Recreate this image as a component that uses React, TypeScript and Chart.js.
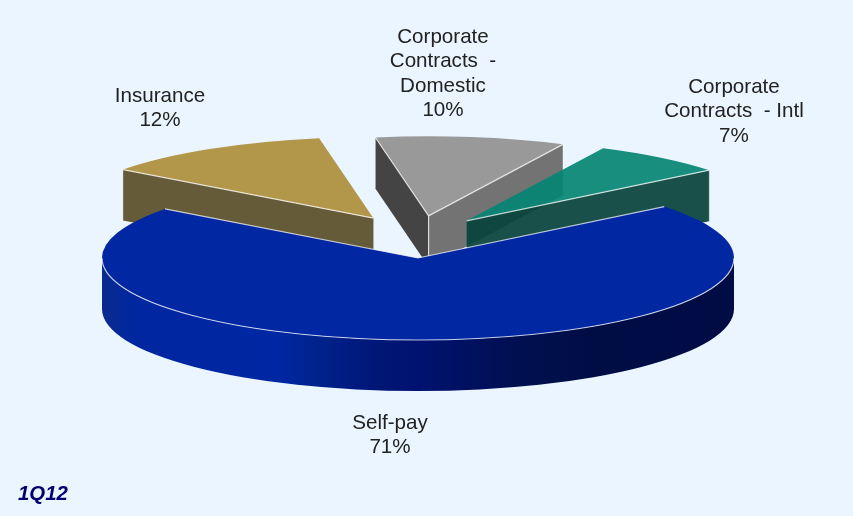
import { useEffect, useRef } from "react";
import { Chart, registerables } from "chart.js";

Chart.register(...registerables);

// Revenue mix for the quarter, in percent.
const categories = ["Self-pay", "Insurance", "Corporate Contracts - Domestic", "Corporate Contracts - Intl"];
const shares = [71, 12, 10, 7];
const labelLines = [["Self-pay"], ["Insurance"], ["Corporate", "Contracts  -", "Domestic"], ["Corporate", "Contracts  - Intl"]];
const periodLabel = "1Q12";

const topColors = ["#0227A3", "#B2964A", "#999999", "rgba(4,132,115,0.92)"];
const startFaceColors = ["#000000", "#665B38", "#444444", "rgba(7,66,59,0.92)"];
const endFaceColors = ["#000000", "#665B38", "#737373", "rgba(7,66,59,0.92)"];
const explodeDistance = [0, 85, 76, 78];
const explodeLift = [0, 0.55, 0.56, 0.61];
const sliceScale = [1, 0.99, 0.97, 0.985];
const labelAnchors = [
  { x: 390, y: 423 },
  { x: 160, y: 96 },
  { x: 443, y: 37 },
  { x: 734, y: 87 },
];

const SQUASH = 0.2595;
const THICKNESS = 51;
const RADIUS = 316;
const PAINT_ORDER = [1, 2, 3, 0];
const EDGE = "rgba(255,255,255,0.72)";
const TEXT_FONT = '20.6px "Liberation Sans", Arial, sans-serif';

const normalize = (a: number) => Math.atan2(Math.sin(a), Math.cos(a));

// Paints one extruded, tilted slice from the arc geometry Chart.js computed.
function paintSlice(ctx: CanvasRenderingContext2D, arc: any, index: number) {
  const { x, y, startAngle, endAngle, outerRadius } = arc;
  const mid = (startAngle + endAngle) / 2;
  const d = explodeDistance[index];
  const scale = sliceScale[index];
  const cx = x + d * Math.cos(mid);
  const cy = y + d * Math.sin(mid) * explodeLift[index];
  const rx = outerRadius * scale;
  const ry = rx * SQUASH;
  const rim = (a: number) => ({ x: cx + rx * Math.cos(a), y: cy + ry * Math.sin(a) });

  const face = (a: number, fill: string) => {
    const p = rim(a);
    ctx.beginPath();
    ctx.moveTo(cx, cy);
    ctx.lineTo(p.x, p.y);
    ctx.lineTo(p.x, p.y + THICKNESS);
    ctx.lineTo(cx, cy + THICKNESS);
    ctx.closePath();
    ctx.fillStyle = fill;
    ctx.fill();
    ctx.strokeStyle = "rgba(255,255,255,0.3)";
    ctx.lineWidth = 1;
    ctx.beginPath();
    ctx.moveTo(p.x, p.y);
    ctx.lineTo(p.x, p.y + THICKNESS);
    ctx.stroke();
  };

  const startVisible = Math.sin(startAngle - Math.PI / 2) > 0;
  const endVisible = Math.sin(endAngle + Math.PI / 2) > 0;
  if (startVisible) face(startAngle, startFaceColors[index]);
  if (endVisible) face(endAngle, endFaceColors[index]);

  // Curved outer wall: only the half of the rim that faces the viewer.
  const from = Math.max(startAngle, 0);
  const to = Math.min(endAngle, Math.PI);
  const hasFront = normalize(mid) > 0 && to > from && d === 0;
  if (hasFront) {
    const g = ctx.createLinearGradient(cx - rx, 0, cx + rx, 0);
    g.addColorStop(0, "#0A2A8E");
    g.addColorStop(0.05, "#0027A0");
    g.addColorStop(0.28, "#0027A3");
    g.addColorStop(0.33, "#00238F");
    g.addColorStop(0.44, "#001675");
    g.addColorStop(0.5, "#001270");
    g.addColorStop(0.66, "#000F50");
    g.addColorStop(0.77, "#000D45");
    g.addColorStop(1, "#010C45");
    ctx.beginPath();
    ctx.ellipse(cx, cy, rx, ry, 0, from, to);
    ctx.ellipse(cx, cy + THICKNESS, rx, ry, 0, to, from, true);
    ctx.closePath();
    ctx.fillStyle = g;
    ctx.fill();
  }

  // The top surface is the library's own arc element under a tilt transform.
  ctx.save();
  ctx.translate(cx, cy);
  ctx.scale(scale, scale * SQUASH);
  ctx.translate(-x, -y);
  arc.draw(ctx);
  ctx.restore();

  ctx.strokeStyle = EDGE;
  ctx.lineWidth = 1.2;
  const radial = (a: number) => {
    const p = rim(a);
    ctx.beginPath();
    ctx.moveTo(cx, cy);
    ctx.lineTo(p.x, p.y);
    ctx.stroke();
  };
  if (startVisible || d === 0) radial(startAngle);
  if (endVisible || d === 0) radial(endAngle);
  if (startVisible && endVisible) {
    ctx.beginPath();
    ctx.moveTo(cx, cy);
    ctx.lineTo(cx, cy + THICKNESS);
    ctx.stroke();
  }
  if (hasFront) {
    ctx.beginPath();
    ctx.ellipse(cx, cy, rx, ry, 0, from, to);
    ctx.stroke();
  }
}

const tiltedPie = {
  id: "tiltedPie",
  beforeDatasetDraw(chart: any, args: any) {
    const ctx = chart.ctx;
    const arcs = args.meta.data;
    PAINT_ORDER.forEach((i) => paintSlice(ctx, arcs[i], i));
    return false;
  },
  afterDraw(chart: any) {
    const ctx = chart.ctx;
    const values = chart.data.datasets[0].data;
    ctx.save();
    ctx.font = TEXT_FONT;
    ctx.fillStyle = "#222222";
    ctx.textAlign = "center";
    ctx.textBaseline = "middle";
    labelLines.forEach((lines, i) => {
      const rows = [...lines, `${values[i]}%`];
      rows.forEach((row, r) => ctx.fillText(row, labelAnchors[i].x, labelAnchors[i].y + r * 24.6));
    });
    ctx.font = 'italic bold 20.4px "Liberation Sans", Arial, sans-serif';
    ctx.fillStyle = "#00006E";
    ctx.textAlign = "left";
    ctx.fillText(periodLabel, 18, 494);
    ctx.restore();
  },
};

export default function App() {
  const canvasRef = useRef<HTMLCanvasElement>(null);

  useEffect(() => {
    const chart = new Chart(canvasRef.current!, {
      type: "pie",
      data: {
        labels: categories,
        datasets: [{ data: shares, backgroundColor: topColors, borderWidth: 0 }],
      },
      options: {
        animation: false,
        responsive: false,
        rotation: 51.2,
        radius: RADIUS,
        layout: { padding: { right: 17 } },
        plugins: { legend: { display: false }, tooltip: { enabled: false } },
      },
      plugins: [tiltedPie],
    } as any);
    return () => chart.destroy();
  }, []);

  return (
    <div style={{ position: "fixed", inset: 0, background: "#EBF5FF" }}>
      <canvas ref={canvasRef} width={853} height={516} style={{ display: "block" }} />
    </div>
  );
}
